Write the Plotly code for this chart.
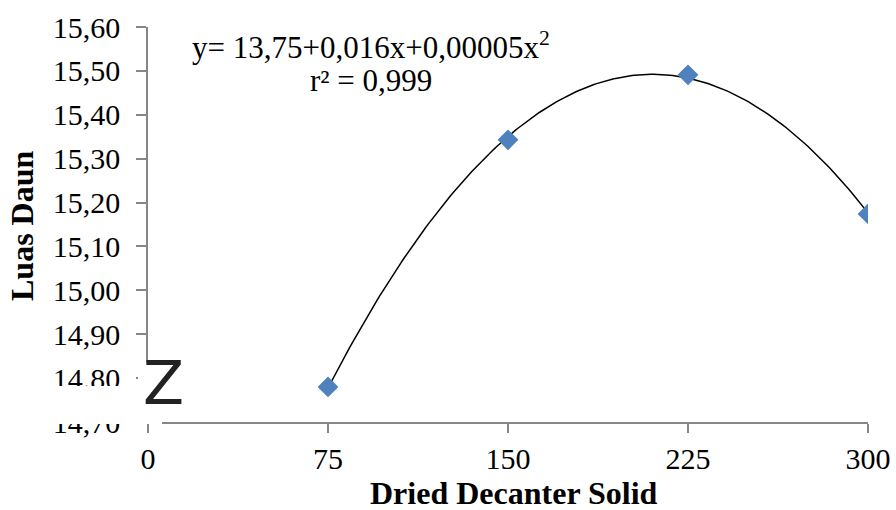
import numpy as np
import plotly.graph_objects as go

# Data
dose = [75, 150, 225, 300]
luas_daun = [14.78, 15.343, 15.491, 15.174]
y_ticks = [14.7, 14.8, 14.9, 15.0, 15.1, 15.2, 15.3, 15.4, 15.5, 15.6]
y_ticktext = ["14,70", "14.80", "14,90", "15,00", "15,10", "15,20", "15,30", "15,40", "15,50", "15,60"]
x_ticks = [0, 75, 150, 225, 300]
x_ticktext = ["0", "75", "150", "225", "300"]
equation = "y= 13,75+0,016x+0,00005x<sup>2</sup>"
r2_text = "r² = 0,999"

# quadratic trendline
coef = np.polyfit(dose, luas_daun, 2)
xs = np.linspace(min(dose), max(dose), 200)
ys = np.polyval(coef, xs)

W, H = 896, 510
ML, MR, MT, MB = 148, 28, 27, 88
PW, PH = W - ML - MR, H - MT - MB

def px(x):
    return (x - ML) / PW

def py(y):
    return (H - MB - y) / PH

fig = go.Figure()
fig.add_trace(go.Scatter(x=xs, y=ys, mode="lines",
                         line=dict(color="black", width=1.5),
                         hoverinfo="skip", showlegend=False))
fig.add_trace(go.Scatter(x=dose, y=luas_daun, mode="markers",
                         marker=dict(symbol="diamond", size=16, color="#4F81BD"),
                         showlegend=False))

serif = "Liberation Serif, Times New Roman, serif"
axis_gray = "#868686"

fig.update_layout(
    width=W, height=H, autosize=False,
    margin=dict(l=ML, r=MR, t=MT, b=MB, pad=0),
    paper_bgcolor="white", plot_bgcolor="white",
    font=dict(family=serif, color="black", size=30),
    xaxis=dict(range=[0, 300], tickvals=x_ticks, ticktext=x_ticktext,
               showgrid=False, zeroline=False, showline=True, automargin=False,
               linecolor=axis_gray, linewidth=1.5,
               ticks="outside", ticklen=9, tickcolor=axis_gray, tickwidth=1.5,
               tickfont=dict(family=serif, size=30, color="black"),
               ticklabelstandoff=0),
    yaxis=dict(range=[14.7, 15.6], tickvals=y_ticks, ticktext=y_ticktext,
               showgrid=False, zeroline=False, showline=True, automargin=False,
               linecolor=axis_gray, linewidth=1.5,
               ticks="outside", ticklen=10, tickcolor=axis_gray, tickwidth=1.5,
               tickfont=dict(family=serif, size=30, color="black"),
               ticklabelstandoff=10),
)

# axis-break cover and symbol
fig.add_shape(type="rect", xref="paper", yref="paper",
              x0=px(50), x1=px(162), y0=py(424), y1=py(386),
              fillcolor="white", line=dict(width=0), layer="above")
fig.add_shape(type="rect", xref="paper", yref="paper",
              x0=px(138), x1=px(162), y0=py(386), y1=py(362),
              fillcolor="white", line=dict(width=0), layer="above")
fig.add_annotation(text="Z", xref="paper", yref="paper",
                   x=px(163), y=py(383), showarrow=False,
                   font=dict(family="DejaVu Sans", size=60, color="#222222"),
                   xanchor="center", yanchor="middle")

# equation
fig.add_annotation(text=equation, xref="paper", yref="paper",
                   x=px(371), y=py(45), showarrow=False,
                   font=dict(family=serif, size=31, color="black"),
                   xanchor="center", yanchor="middle")
fig.add_annotation(text=r2_text, xref="paper", yref="paper",
                   x=px(371), y=py(80), showarrow=False,
                   font=dict(family=serif, size=31, color="black"),
                   xanchor="center", yanchor="middle")

# axis titles
fig.add_annotation(text="<b>Dried Decanter Solid</b>", xref="paper", yref="paper",
                   x=px(514), y=py(493), showarrow=False,
                   font=dict(family=serif, size=32, color="black"),
                   xanchor="center", yanchor="middle")
fig.add_annotation(text="<b>Luas Daun</b>", xref="paper", yref="paper",
                   x=px(22), y=py(226), showarrow=False, textangle=-90,
                   font=dict(family=serif, size=32, color="black"),
                   xanchor="center", yanchor="middle")

fig.write_html("out.html",
               config={"displayModeBar": False, "responsive": False},
               post_script="document.body.style.margin='0';document.body.style.padding='0';")
